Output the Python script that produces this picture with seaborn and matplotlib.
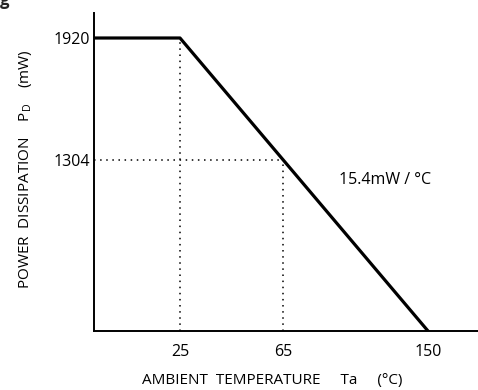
import matplotlib
matplotlib.use("Agg")
import matplotlib.pyplot as plt
import numpy as np
import pandas as pd
import seaborn as sns

# Derating curve values
temps = [0, 25, 150]
power = [1920, 1920, 0]
knee_temp = 65
knee_power = 1304
x_ticks = [25, 65, 150]
y_ticks = [1304, 1920]
slope_label = "15.4mW / °C"

# Schematic (non-linear) axis scaling of the original drawing
x_knots = [0, 25, 65, 150, 180]
x_pos = [0, 86, 189, 334, 384]
y_knots = [0, 1304, 1920, 2100]
y_pos = [0, 171, 293, 318]


def fwd(k, p):
    return lambda v: np.interp(v, k, p)


def inv(k, p):
    return lambda v: np.interp(v, p, k)


sns.set_theme(style="white")
plt.rcParams["font.family"] = ["Open Sans", "DejaVu Sans"]
plt.rcParams["mathtext.fontset"] = "custom"
plt.rcParams["mathtext.rm"] = "Open Sans"

fig = plt.figure(figsize=(4.78, 3.90), dpi=100)
ax = fig.add_axes([94 / 478, 59 / 390, 384 / 478, 318 / 390])
ax.set_xscale("function", functions=(fwd(x_knots, x_pos), inv(x_knots, x_pos)))
ax.set_yscale("function", functions=(fwd(y_knots, y_pos), inv(y_knots, y_pos)))

df = pd.DataFrame({"Ta": temps, "PD": power})
sns.lineplot(data=df, x="Ta", y="PD", ax=ax, color="black", linewidth=2.3,
             sort=False, estimator=None)

dot = dict(color="black", linewidth=1.1, linestyle=(0, (1, 3)))
ax.plot([0, knee_temp], [knee_power, knee_power], **dot)
ax.plot([knee_temp, knee_temp], [0, knee_power], **dot)
ax.plot([25, 25], [0, 1920], **dot)

ax.set_xlim(0, 180)
ax.set_ylim(0, 2100)
ax.set_xticks(x_ticks)
ax.set_xticklabels([str(t) for t in x_ticks])
ax.set_yticks(y_ticks)
ax.set_yticklabels([str(t) for t in y_ticks])
ax.tick_params(axis="both", length=0, labelsize=11.5, colors="black")
ax.tick_params(axis="x", pad=9)
ax.tick_params(axis="y", pad=3)

for side in ["top", "right"]:
    ax.spines[side].set_visible(False)
for side in ["left", "bottom"]:
    ax.spines[side].set_color("black")
    ax.spines[side].set_linewidth(1.4)

ax.set_xlabel("AMBIENT  TEMPERATURE     Ta     (°C)", fontsize=11, color="black", labelpad=10)
ax.xaxis.label.set_x(0.465)
ax.set_ylabel("POWER  DISSIPATION    P$_\\mathrm{D}$    (mW)", fontsize=11, color="black", labelpad=14)
ax.yaxis.label.set_y(0.51)

ax.text(98, 1150, slope_label, fontsize=11.5, color="black", va="center")

fig.text(0.0, 1.0, "g", fontsize=12, fontweight="bold", va="center", ha="left")

fig.savefig("out.png", dpi=100)
